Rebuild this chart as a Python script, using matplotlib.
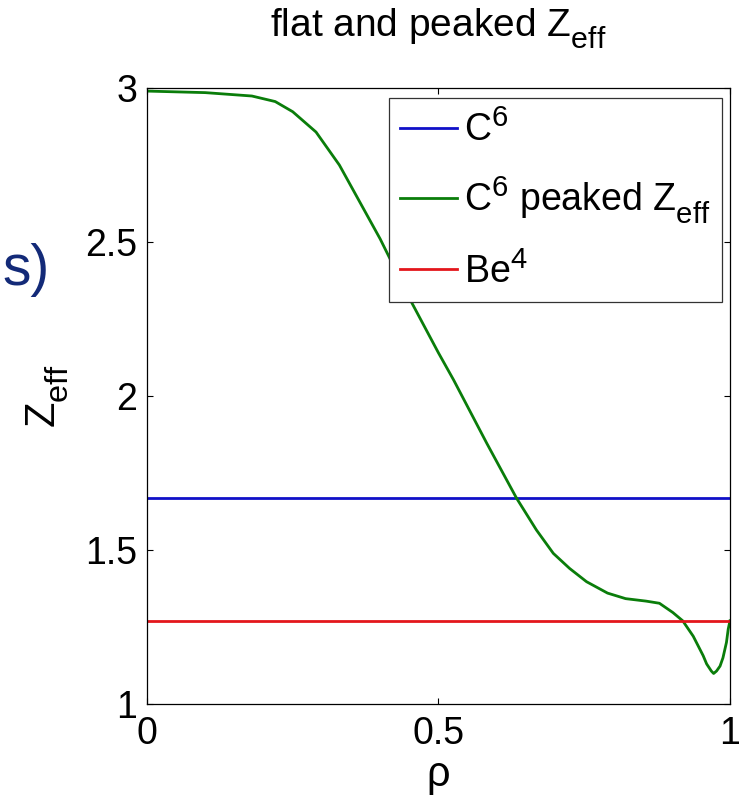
import numpy as np
import matplotlib
matplotlib.use('Agg')
import matplotlib.pyplot as plt
import matplotlib._mathtext as mt

plt.rcParams['font.family'] = ['Liberation Sans', 'DejaVu Sans']
plt.rcParams['mathtext.fontset'] = 'custom'
plt.rcParams['mathtext.rm'] = 'Liberation Sans'
plt.rcParams['mathtext.it'] = 'Liberation Sans'
plt.rcParams['mathtext.default'] = 'regular'
# matlab-like scripts: a bit bigger, subscripts lower
mt.SHRINK_FACTOR = 0.78
mt.FontConstantsBase.sub1 = 0.6
mt.FontConstantsBase.subdrop = 0.6

# flat profiles
rho_flat = [0.0, 1.0]
zeff_c6 = [1.67, 1.67]
zeff_be4 = [1.27, 1.27]

# peaked profile
rho_peak = [0.0, 0.10, 0.18, 0.22, 0.25, 0.29, 0.33, 0.365, 0.40, 0.455,
            0.50, 0.526, 0.583, 0.634, 0.668, 0.697, 0.725, 0.754, 0.79, 0.821,
            0.856, 0.879, 0.902, 0.919, 0.937, 0.954, 0.96, 0.968, 0.972, 0.977,
            0.983, 0.988, 0.994, 0.997, 1.0]
zeff_peak = [2.99, 2.985, 2.974, 2.956, 2.923, 2.857, 2.75, 2.63, 2.51, 2.30,
             2.14, 2.052, 1.846, 1.668, 1.565, 1.489, 1.44, 1.397, 1.36, 1.342,
             1.334, 1.327, 1.297, 1.27, 1.22, 1.157, 1.13, 1.107, 1.099, 1.107,
             1.123, 1.15, 1.20, 1.243, 1.27]

labels = ['$C^6$', '$C^6$ peaked $Z_{eff}$', '$Be^4$']
xticks = [0, 0.5, 1]
xticklabels = ['0', '0.5', '1']
yticks = [1, 1.5, 2, 2.5, 3]
yticklabels = ['1', '1.5', '2', '2.5', '3']

fig = plt.figure(figsize=(7.46, 7.95), dpi=100)
ax = fig.add_axes([0.197, 0.1145, 0.7815, 0.7748])

ax.plot(rho_flat, zeff_c6, color='#1010c8', lw=2, label=labels[0])
ax.plot(rho_peak, zeff_peak, color='#0a7d0a', lw=2, label=labels[1])
ax.plot(rho_flat, zeff_be4, color='#e3161c', lw=2, label=labels[2])

ax.set_xlim(0, 1)
ax.set_ylim(1, 3)
ax.set_xticks(xticks)
ax.set_xticklabels(xticklabels)
ax.set_yticks(yticks)
ax.set_yticklabels(yticklabels)
ax.tick_params(direction='in', length=4, width=0.8, labelsize=27,
               top=True, right=True)
ax.tick_params(axis='x', pad=9)
ax.tick_params(axis='y', pad=7)
for s in ax.spines.values():
    s.set_linewidth(0.9)

leg = ax.legend(loc='upper right', bbox_to_anchor=(0.9863, 0.9838),
                borderaxespad=0, fontsize=27, handlelength=1.5,
                handletextpad=0.2, borderpad=0.3, labelspacing=0.66,
                fancybox=False, framealpha=1, edgecolor='#333333')
leg.get_frame().set_linewidth(0.9)

ax.text(0.5, 1.083, 'flat and peaked $Z_{eff}$', transform=ax.transAxes,
        ha='center', va='baseline', fontsize=28)
fig.text(0.064, 0.502, '$Z_{eff}$', rotation=90, ha='center', va='center',
         fontsize=30)
fig.text(0.587, 0.0113, 'ρ', ha='center', va='baseline', fontsize=30)

# cut-off text from the slide
fig.text(0.003, 0.6415, 's)', ha='left', va='baseline', fontsize=41,
         color='#132a78')

fig.savefig('out.png', dpi=100)
